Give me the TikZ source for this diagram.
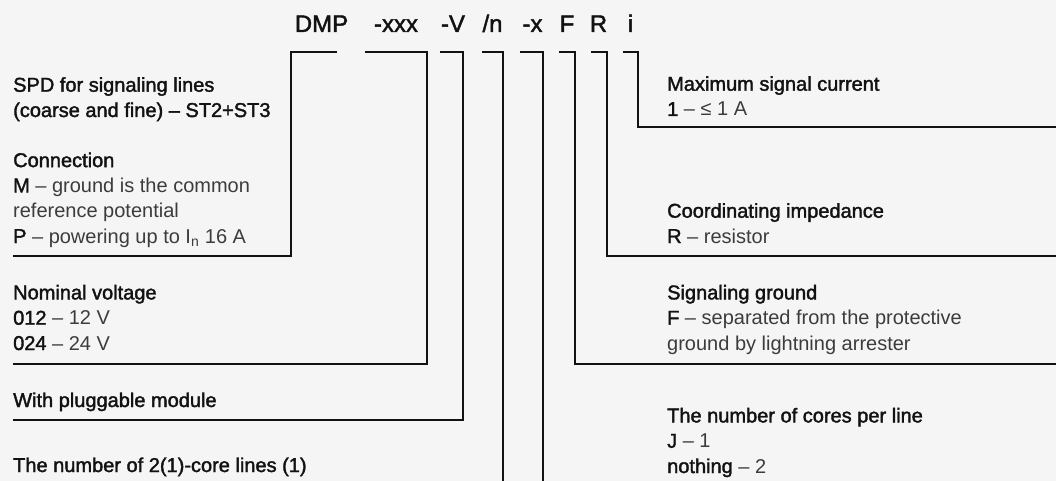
\documentclass[tikz,border=0pt]{standalone}
\usepackage{fontspec}
\setmainfont{Liberation Sans}
\newfontfamily\medf{Liberation Sans}[FakeBold=1.8]
\usepackage{xcolor}
\usepackage{tikz}
\definecolor{fundo}{RGB}{245,245,245}
\definecolor{tinta}{RGB}{18,18,18}
\definecolor{leve}{RGB}{60,60,60}
\newcommand{\des}[1]{{\rmfamily\color{leve}#1}}
\tikzset{
    cod/.style   = {font=\medf\fontsize{24}{28}\selectfont, anchor=base, inner sep=0pt, text=tinta},
    bloco/.style = {font=\medf\fontsize{20}{25.3}\selectfont, anchor=base west, align=left,
                    inner sep=0pt, text=tinta},
    linha/.style = {line width=2pt, draw=tinta},
}

\begin{document}
\begin{tikzpicture}[x=1pt, y=-1pt]
    \useasboundingbox (0,0) rectangle (1056,481);
    \fill[fundo] (0,0) rectangle (1056,481);
    \node[cod] (cDMP) at (321.5,32) {DMP};
    \node[cod] (cxxx) at (396,32) {-xxx};
    \node[cod] (cV) at (453,32) {-V};
    \node[cod] (cn) at (492.5,32) {/n};
    \node[cod] (cx) at (532.5,32) {-x};
    \node[cod] (cF) at (567,32) {F};
    \node[cod] (cR) at (598.5,32) {R};
    \node[cod] (ci) at (630.5,32) {i};
    \foreach \a/\b/\y/\e in {337/291/256/13, 365/427/364/13, 440/463/420/13,
            482/503/481/503, 520/543/481/543, 559/575/364/1056,
            591/607/256/1056, 623/638/127/1056}
        \draw[linha] (\a,52) -- (\b,52) -- (\b,\y) -- (\e,\y);
    \node[bloco] (spd) at (13,117) {SPD for signaling lines\\(coarse and fine) – ST2+ST3};
    \node[bloco] (conn) at (13,243) {Connection\\M \des{– ground is the common}\\
        \des{reference potential}\\P \des{– powering up to I\textsubscript{n} 16 A}};
    \node[bloco] (volt) at (13,350) {Nominal voltage\\012 \des{– 12 V}\\024 \des{– 24 V}};
    \node[bloco] (plug) at (13,407) {With pluggable module};
    \node[bloco] (lines) at (13,472) {The number of 2(1)-core lines (1)};
    \node[bloco] (curr) at (667,116) {Maximum signal current\\1 \des{– ≤ 1 A}};
    \node[bloco] (imp) at (667,243) {Coordinating impedance\\R \des{– resistor}};
    \node[bloco] (gnd) at (667,350) {Signaling ground\\F \des{– separated from the protective}\\
        \des{ground by lightning arrester}};
    \node[bloco] (cores) at (667,473) {The number of cores per line\\J \des{– 1}\\nothing \des{– 2}};
\end{tikzpicture}
\end{document}
